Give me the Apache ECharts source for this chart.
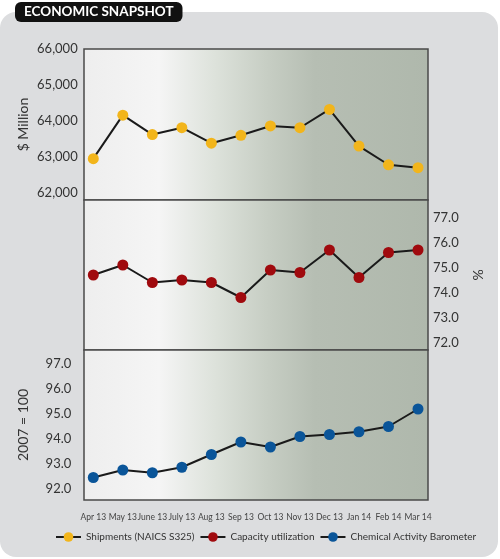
<!DOCTYPE html>
<html>
<head>
<meta charset="utf-8">
<script src="https://cdn.jsdelivr.net/npm/echarts@6/dist/echarts.min.js"></script>
<style>
html,body{margin:0;padding:0;background:#fff;}
#chart{width:500px;height:559px;}
</style>
</head>
<body>
<div id="chart"></div>
<script>
const categories = ['Apr 13','May 13','June 13','July 13','Aug 13','Sep 13','Oct 13','Nov 13','Dec 13','Jan 14','Feb 14','Mar 14'];
const shipments = [62950,64160,63620,63810,63380,63600,63860,63810,64320,63300,62780,62700];
const capacity = [74.7,75.1,74.4,74.5,74.4,73.8,74.9,74.8,75.7,74.6,75.6,75.7];
const cab = [92.45,92.75,92.64,92.86,93.37,93.87,93.67,94.09,94.17,94.28,94.49,95.19];
const seriesNames = ['Shipments (NAICS S325)','Capacity utilization','Chemical Activity Barometer'];
const seriesColors = ['#f2b51b','#a00a0e','#0a5599'];

const FONT = 'Lato, "Open Sans", sans-serif';
const panelBg = {type:'linear',x:0,y:0,x2:1,y2:0,colorStops:[
  {offset:0,color:'#eeeeee'},{offset:0.22,color:'#f5f5f5'},{offset:0.38,color:'#dde2db'},
  {offset:0.53,color:'#c7cec4'},{offset:0.67,color:'#b6beb3'},{offset:1,color:'#afb8ac'}]};

const panelTops = [49,200,350];
const panelHeights = [151,150,150];
const grids = [];
panelTops.forEach((t,i)=>grids.push({left:84,width:344,top:t,height:panelHeights[i],show:true,backgroundColor:panelBg,borderColor:'#4a4a4a',borderWidth:1.5}));
panelTops.forEach((t,i)=>grids.push({left:93.3,width:324.7,top:t,height:panelHeights[i],show:false}));

const xAxes = [];
const yAxes = [];
for(let i=0;i<3;i++){
  xAxes.push({gridIndex:i,type:'value',show:false,min:0,max:1});
  yAxes.push({gridIndex:i,type:'value',show:false,min:0,max:1});
}
for(let i=0;i<3;i++){
  xAxes.push({gridIndex:3+i,type:'category',data:categories,boundaryGap:false,show:i===2,
    axisLine:{show:false},axisTick:{show:false},
    axisLabel:{show:i===2,interval:0,margin:13,fontSize:8.5,color:'#444',fontFamily:FONT}});
}
function intLabel(fmt){
  return function(v){ return Math.abs(v-Math.round(v))<0.001 ? fmt(Math.round(v)) : ''; };
}
const baseY = {type:'value',axisLine:{show:false},axisTick:{show:false},splitLine:{show:false},
  nameLocation:'middle',nameMoveOverlap:false,nameTextStyle:{fontSize:14,color:'#333',fontFamily:FONT}};
yAxes.push(Object.assign({},baseY,{gridIndex:3,min:61800,max:66000,interval:200,name:'$ Million',nameGap:63,
  axisLabel:{showMaxLabel:true,showMinLabel:false,margin:15.6,fontSize:13,color:'#333',fontFamily:FONT,
    formatter:function(v){return (Math.abs(v%1000)<0.5)? v.toLocaleString('en-US'):'';}}}));
yAxes.push(Object.assign({},baseY,{gridIndex:4,position:'right',min:71.7,max:77.7,interval:0.1,name:'%',nameGap:53,
  axisLabel:{margin:15,fontSize:13,color:'#333',fontFamily:FONT,formatter:intLabel(v=>v.toFixed(1))}}));
yAxes.push(Object.assign({},baseY,{gridIndex:5,min:91.55,max:97.55,interval:0.05,name:'2007 = 100',nameGap:63,
  axisLabel:{margin:22,fontSize:13,color:'#333',fontFamily:FONT,formatter:intLabel(v=>v.toFixed(1))}}));

const dataSets = [shipments,capacity,cab];
const series = dataSets.map((d,i)=>({
  name:seriesNames[i],type:'line',xAxisIndex:3+i,yAxisIndex:3+i,data:d,
  symbol:'circle',symbolSize:11,showSymbol:true,
  itemStyle:{color:seriesColors[i]},lineStyle:{color:'#1a1a1a',width:2},
  emphasis:{disabled:true},z:3
}));

const chart = echarts.init(document.getElementById('chart'),null,{renderer:'canvas'});
chart.setOption({
  animation:false,
  backgroundColor:'#ffffff',
  graphic:[{type:'rect',z:-10,silent:true,shape:{x:0,y:12,width:498,height:545,r:16},style:{fill:'#dcdddf'}}],
  title:{text:'ECONOMIC SNAPSHOT',left:15,top:2,backgroundColor:'#111111',borderRadius:6,padding:[3,9,3,9],
    textStyle:{color:'#ffffff',fontSize:13.5,fontWeight:'bold',fontFamily:FONT,lineHeight:14}},
  legend:{data:seriesNames,left:55,top:532,width:445,padding:0,itemWidth:25,itemHeight:12,itemGap:5,
    textStyle:{fontSize:10,color:'#333',fontFamily:FONT}},
  grid:grids,
  xAxis:xAxes,
  yAxis:yAxes,
  series:series
});
</script>
</body>
</html>
